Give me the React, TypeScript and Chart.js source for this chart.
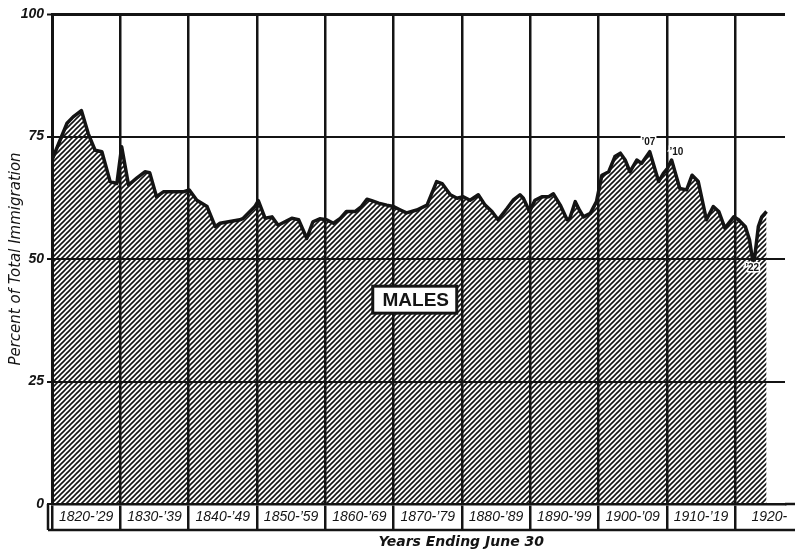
import React, { useEffect, useRef } from 'react';
import { Chart, registerables } from 'chart.js';

Chart.register(...registerables);

const INK = '#141414';

// Fiscal year positions of the traced line's vertices, and male share (%) of total immigration
const yearPoints = [
  1820.0, 1821.4, 1822.2, 1823.1, 1824.3, 1825.3, 1826.3, 1827.3, 1828.5, 1829.5,
  1830.2, 1831.2, 1832.4, 1833.6, 1834.3, 1835.3, 1836.3, 1839.2, 1840.1, 1841.2,
  1842.7, 1843.9, 1844.6, 1847.5, 1848.0, 1849.7, 1850.2, 1851.2, 1852.2, 1853.1,
  1854.1, 1855.1, 1856.1, 1857.3, 1858.2, 1859.2, 1860.2, 1861.2, 1862.2, 1863.1,
  1864.4, 1865.3, 1866.1, 1866.8, 1867.8, 1869.0, 1870.0, 1871.0, 1871.9, 1873.4,
  1874.9, 1876.3, 1877.1, 1878.3, 1879.3, 1880.2, 1881.2, 1882.4, 1883.4, 1884.4,
  1885.3, 1886.6, 1887.5, 1888.5, 1889.0, 1889.9, 1890.7, 1891.7, 1892.7, 1893.4,
  1894.4, 1895.4, 1895.8, 1896.6, 1897.2, 1897.8, 1898.8, 1899.7, 1900.5, 1901.5,
  1902.4, 1903.2, 1903.9, 1904.6, 1905.6, 1906.3, 1907.5, 1908.8, 1909.5, 1910.1,
  1910.7, 1911.9, 1912.9, 1913.7, 1914.6, 1915.8, 1916.8, 1917.6, 1918.5, 1919.8,
  1920.5, 1921.5, 1922.1, 1922.7, 1923.4, 1923.9, 1924.6,
];

const malePercent = [
  70.2, 75, 77.7, 79, 80.3, 75.6, 72.2, 71.9, 65.8, 65.4,
  72.9, 65.1, 66.5, 67.8, 67.6, 62.7, 63.7, 63.7, 64.1, 62,
  60.7, 56.6, 57.3, 58, 58.3, 60.7, 61.9, 58.3, 58.6, 56.9,
  57.6, 58.3, 58, 54.2, 57.6, 58.2, 58, 57.3, 58.3, 59.7,
  59.7, 60.7, 62.2, 61.9, 61.4, 61, 60.7, 60, 59.4, 60,
  61, 65.8, 65.4, 63.1, 62.4, 62.7, 62, 63.1, 61, 59.7,
  58, 60.3, 62, 63.1, 62.4, 59.7, 62, 62.7, 62.7, 63.3,
  61, 58, 58.3, 61.7, 60, 58.6, 59.3, 61.7, 67.1, 67.8,
  70.9, 71.6, 70.2, 67.8, 70.2, 69.5, 71.9, 65.8, 67.5, 68.5,
  70.2, 64.4, 64.1, 67.1, 65.8, 58, 60.7, 59.7, 56.3, 58.6,
  58, 56.6, 53.9, 48.5, 56.6, 58.6, 59.7,
];

const decadeStarts = [1820, 1830, 1840, 1850, 1860, 1870, 1880, 1890, 1900, 1910, 1920];
const decadeLabels = [
  '1820-\u201929', '1830-\u201939', '1840-\u201949', '1850-\u201959', '1860-\u201969',
  '1870-\u201979', '1880-\u201989', '1890-\u201999', '1900-\u201909', '1910-\u201919', '1920-',
];
const yTickValues = [0, 25, 50, 75, 100];

const markerLabels = ['\u201907', '\u201910', '\u201922'];
const markerYears = [1907.3, 1911.4, 1922.5];
const markerPercents = [73.9, 71.8, 48.2];

const X_MIN = 1820;
const X_MAX = 1927.3;
const BOX_DEPTH = 26;

export default function App() {
  const ref = useRef<HTMLCanvasElement>(null);

  useEffect(() => {
    const canvas = ref.current;
    if (!canvas) return;

    // diagonal hatch pattern ("////")
    const pc = document.createElement('canvas');
    const s = 5;
    pc.width = s;
    pc.height = s;
    const p = pc.getContext('2d')!;
    p.strokeStyle = INK;
    p.lineWidth = 1.6;
    p.beginPath();
    p.moveTo(0, s); p.lineTo(s, 0);
    p.moveTo(-1, 1); p.lineTo(1, -1);
    p.moveTo(s - 1, s + 1); p.lineTo(s + 1, s - 1);
    p.stroke();
    const hatch = canvas.getContext('2d')!.createPattern(pc, 'repeat');

    const tickVals: number[] = [];
    decadeStarts.forEach((d) => { tickVals.push(d); tickVals.push(d + 5); });

    const decor = {
      id: 'decor',
      afterDraw(chart: any) {
        const { ctx, chartArea: ca, scales } = chart;
        const x = scales.x;
        const y = scales.y;
        const boxBottom = ca.bottom + BOX_DEPTH;
        ctx.save();
        ctx.strokeStyle = INK;
        ctx.lineCap = 'butt';
        // label box frame pieces
        ctx.lineWidth = 2.5;
        ctx.beginPath();
        ctx.moveTo(ca.left - 4, boxBottom);
        ctx.lineTo(ca.right + 10, boxBottom);
        ctx.moveTo(ca.right, ca.bottom);
        ctx.lineTo(ca.right + 10, ca.bottom);
        ctx.moveTo(ca.left - 4, ca.bottom);
        ctx.lineTo(ca.left - 4, boxBottom);
        ctx.stroke();

        // x title
        ctx.fillStyle = INK;
        ctx.font = 'italic bold 14px "DejaVu Sans"';
        ctx.textAlign = 'center';
        ctx.textBaseline = 'middle';
        ctx.fillText('Years Ending June 30', x.getPixelForValue(1879.9), boxBottom + 12);

        // MALES box
        const cx = x.getPixelForValue(1873.1);
        const cy = y.getPixelForValue(41.7);
        ctx.fillStyle = '#fff';
        ctx.fillRect(cx - 42, cy - 13.5, 84, 27);
        ctx.lineWidth = 3;
        ctx.strokeRect(cx - 42, cy - 13.5, 84, 27);
        ctx.fillStyle = INK;
        ctx.font = 'bold 19px "Liberation Sans"';
        ctx.fillText('MALES', cx + 1, cy + 1);

        // year markers
        ctx.font = 'bold 10px "Liberation Sans"';
        markerLabels.forEach((t, i) => {
          const mx = x.getPixelForValue(markerYears[i]);
          const my = y.getPixelForValue(markerPercents[i]);
          ctx.lineWidth = 3;
          ctx.strokeStyle = '#fff';
          ctx.strokeText(t, mx, my);
          ctx.fillText(t, mx, my);
        });
        ctx.restore();
      },
    };

    const chart = new Chart(canvas, {
      type: 'line',
      data: {
        datasets: [
          {
            label: 'Males',
            data: yearPoints.map((yr, i) => ({ x: yr, y: malePercent[i] })),
            borderColor: INK,
            borderWidth: 3.5,
            borderJoinStyle: 'round',
            backgroundColor: hatch as any,
            fill: 'origin',
            pointRadius: 0,
            tension: 0,
          },
        ],
      },
      options: {
        animation: false,
        responsive: true,
        maintainAspectRatio: false,
        layout: { padding: { left: 0, right: 16, top: 14, bottom: 0 } },
        plugins: {
          legend: { display: false },
          tooltip: { enabled: false },
        },
        scales: {
          x: {
            type: 'linear',
            min: X_MIN,
            max: X_MAX,
            afterBuildTicks: (scale: any) => {
              scale.ticks = tickVals.map((v) => ({ value: v }));
            },
            afterFit: (scale: any) => {
              scale.height = 49;
            },
            grid: {
              color: (c: any) => (c.tick && c.tick.value % 10 === 0 ? INK : 'rgba(0,0,0,0)'),
              tickColor: (c: any) => (c.tick && c.tick.value % 10 === 0 ? INK : 'rgba(0,0,0,0)'),
              lineWidth: 2.5,
              tickWidth: 2.5,
              tickLength: BOX_DEPTH,
              drawTicks: true,
            },
            border: { display: true, color: INK, width: 2.5 },
            ticks: {
              autoSkip: false,
              maxRotation: 0,
              minRotation: 0,
              padding: -21,
              color: INK,
              font: { family: '"Liberation Sans"', size: 14, style: 'italic' },
              callback: (v: any) => {
                const n = Number(v);
                if (n % 10 !== 5) return '';
                const idx = decadeStarts.indexOf(n - 5);
                return idx >= 0 ? decadeLabels[idx] : '';
              },
            },
          },
          y: {
            min: 0,
            max: 100,
            afterBuildTicks: (scale: any) => {
              scale.ticks = yTickValues.map((v) => ({ value: v }));
            },
            afterFit: (scale: any) => {
              scale.width = 52;
            },
            grid: {
              color: INK,
              lineWidth: (c: any) => (c.tick && c.tick.value === 100 ? 3 : 2),
              tickLength: 5,
              tickWidth: 2,
              tickColor: INK,
            },
            border: { display: true, color: INK, width: 3 },
            ticks: {
              padding: 3,
              color: INK,
              font: { family: '"Liberation Sans"', size: 14, style: 'italic', weight: 'bold' },
              callback: (v: any) => String(v),
            },
            title: {
              display: true,
              text: 'Percent of Total Immigration',
              color: INK,
              padding: { top: 7, bottom: 0 },
              font: { family: '"DejaVu Sans"', size: 15, style: 'italic' },
            },
          },
        },
      },
      plugins: [decor],
    } as any);

    return () => chart.destroy();
  }, []);

  return (
    <div style={{ position: 'fixed', left: 0, top: 0, width: 801, height: 553, background: '#fff' }}>
      <canvas ref={ref} />
    </div>
  );
}
